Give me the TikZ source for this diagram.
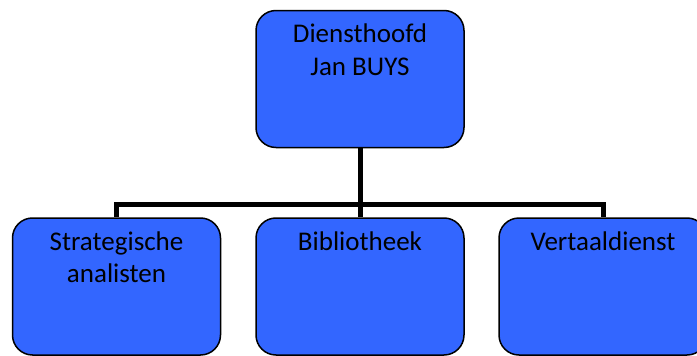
\documentclass[tikz,border=0pt]{standalone}
\usepackage{fontspec}
\setmainfont{Carlito}
\usepackage{tikz}
\usetikzlibrary{positioning}

\definecolor{boxblue}{RGB}{51,102,255}

\tikzset{
  unit/.style={draw=black, line width=1.5pt, fill=boxblue, rounded corners=20pt,
    minimum width=208pt, minimum height=137pt, inner sep=0pt},
  unitname/.style={anchor=north, align=center, font=\fontsize{27}{32.5}\selectfont, inner sep=0pt},
  conn/.style={line width=5pt}
}

\begin{document}
\begin{tikzpicture}[x=1pt,y=-1pt]
\clip (0,0) rectangle (697,356);
\useasboundingbox (0,0) rectangle (697,356);

% Diensthoofd
\node[unit] (top) at (360,79) {};
\node[unitname, below=14pt of top.north] (topname) {Diensthoofd\\Jan BUYS};

% diensten
\node[unit] (strat) at (116.5,286.5) {};
\node[unitname, below=14pt of strat.north] (stratname) {Strategische\\analisten};

\node[unit] (bib) at (360,286.5) {};
\node[unitname, below=14pt of bib.north] (bibname) {Bibliotheek};

\node[unit] (vert) at (603,286.5) {};
\node[unitname, below=14pt of vert.north] (vertname) {Vertaaldienst};

% lijnen
\coordinate (split) at (360,204);
\draw[conn] (top.south) -- (split);
\draw[conn] (split) -| (strat.north);
\draw[conn] (split) -| (vert.north);
\draw[conn] (split) -- (bib.north);
\end{tikzpicture}
\end{document}
